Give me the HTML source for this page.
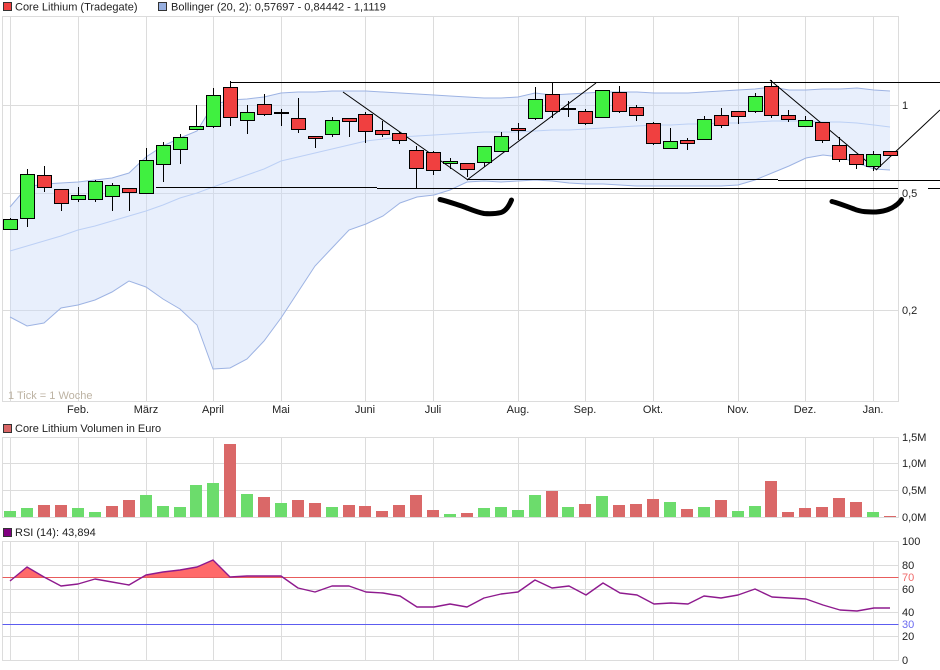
<!DOCTYPE html>
<html><head><meta charset="utf-8"><style>
html,body{margin:0;padding:0;background:#fff;}
svg{display:block;font-family:"Liberation Sans",Arial,sans-serif;}
</style></head><body>
<svg width="940" height="670" viewBox="0 0 940 670" xmlns="http://www.w3.org/2000/svg">
<rect width="940" height="670" fill="#fff"/>
<!-- legend -->
<rect x="3.5" y="2.5" width="8" height="8" fill="#ee4040" stroke="#333" stroke-width="1"/>
<text x="15" y="10.5" font-size="11" fill="#222">Core Lithium (Tradegate)</text>
<rect x="158.5" y="2.5" width="8" height="8" fill="#97afe0" stroke="#333" stroke-width="1"/>
<text x="171" y="10.5" font-size="11" fill="#222">Bollinger (20, 2): 0,57697 - 0,84442 - 1,1119</text>

<!-- main panel grid -->
<g stroke="#dcdcdc" stroke-width="1" fill="none">
<rect x="2.5" y="16.5" width="896" height="385"/>
<path d="M10.5 16.5V401.5M78.5 16.5V401.5M146.5 16.5V401.5M213.5 16.5V401.5M281.5 16.5V401.5M365.5 16.5V401.5M433.5 16.5V401.5M518.5 16.5V401.5M585.5 16.5V401.5M653.5 16.5V401.5M738.5 16.5V401.5M805.5 16.5V401.5M873.5 16.5V401.5"/>
<path d="M2.5 105.5H898.5M2.5 193.5H898.5M2.5 310.5H898.5"/>
</g>

<!-- bollinger -->
<polygon fill="#c9d8f7" fill-opacity="0.42" points="10,207 27,187 44,184 61,183 78,182 95,180 112,178 129,173 146,157 163,146 180,138 197,131 213,105 230,100 247,99 264,97 281,93 298,92 315,92 332,91 349,91 366,91 383,92 400,93 417,94 434,95 450,96 467,97 484,98 501,98 518,97 535,93 552,95 569,94 586,93 603,92 620,92 637,92 654,93 671,93 688,93 704,92 721,91 738,90 755,89 772,87 789,90 806,90 823,89 840,89 857,88 874,90 890,91 890,170 874,169 857,163 840,157 823,155 806,158 789,166 772,173 755,180 738,185 721,186 704,186 688,186 671,186 654,186 637,186 620,185 603,184 586,184 569,183 552,181 535,180 518,181 501,182 484,181 467,182 450,190 434,195 417,197 400,203 383,216 366,224 349,230 332,248 315,266 298,292 281,318 264,341 247,359 230,368 213,369 197,325 180,309 163,299 146,287 129,281 112,292 95,300 78,305 61,308 44,323 27,326 10,317"/>
<polyline fill="none" stroke="#9db3e3" stroke-width="1" points="10,207 27,187 44,184 61,183 78,182 95,180 112,178 129,173 146,157 163,146 180,138 197,131 213,105 230,100 247,99 264,97 281,93 298,92 315,92 332,91 349,91 366,91 383,92 400,93 417,94 434,95 450,96 467,97 484,98 501,98 518,97 535,93 552,95 569,94 586,93 603,92 620,92 637,92 654,93 671,93 688,93 704,92 721,91 738,90 755,89 772,87 789,90 806,90 823,89 840,89 857,88 874,90 890,91"/>
<polyline fill="none" stroke="#bcd0f5" stroke-width="1" points="10,251 27,246 44,241 61,236 78,230 95,226 112,221 129,216 146,211 163,205 180,198 197,193 213,187 230,181 247,175 264,169 281,161 298,157 315,153 332,149 349,145 366,141 383,139 400,137 417,136 434,135 450,134 467,133 484,132 501,132 518,132 535,131 552,130 569,130 586,129 603,128 620,127 637,126 654,125 671,125 688,124 704,124 721,123 738,123 755,122 772,121 789,121 806,121 823,122 840,122 857,123 874,125 890,127"/>
<polyline fill="none" stroke="#9db3e3" stroke-width="1" points="10,317 27,326 44,323 61,308 78,305 95,300 112,292 129,281 146,287 163,299 180,309 197,325 213,369 230,368 247,359 264,341 281,318 298,292 315,266 332,248 349,230 366,224 383,216 400,203 417,197 434,195 450,190 467,182 484,181 501,182 518,181 535,180 552,181 569,183 586,184 603,184 620,185 637,186 654,186 671,186 688,186 704,186 721,186 738,185 755,180 772,173 789,166 806,158 823,155 840,157 857,163 874,169 890,170"/>

<!-- annotation lines -->
<g stroke="#000" stroke-width="1" fill="none">
<path d="M230 82.5H940"/>
<path d="M156 187.5H377M377 188.5H898M928 188.5H940"/>
<path d="M467 179.5H778M778 180.5H940"/>
<path d="M343 92L468 180"/>
<path d="M467 180L596 83"/>
<path d="M770 80L877 170"/>
<path d="M876 170L940 110"/>
</g>

<!-- candles -->
<path stroke="#000" stroke-width="1" fill="none" d="M10.5 218V229M27.5 169V227M44.5 166V192M61.5 189V211M78.5 187V202M95.5 180V202M112.5 183V211M129.5 188V211M146.5 148V193M163.5 142V182M180.5 134V164M196.5 105V129M213.5 88V128M230.5 81V126M247.5 105V134M264.5 94V116M281.5 109V126M298.5 98V133M315.5 136V148M332.5 117V137M349.5 118V137M365.5 112V143M382.5 121V137M399.5 132V144M416.5 146V188M433.5 151V175M450.5 158V169M467.5 163V177M484.5 146V167M501.5 132V151M518.5 123V140M535.5 87V120M552.5 82V118M568.5 101V117M585.5 109V125M602.5 90V117M619.5 86V113M636.5 105V121M653.5 122V145M670.5 128V148M687.5 138V150M704.5 116V139M721.5 108V128M738.5 111V124M755.5 93V113M771.5 80V118M788.5 110V122M805.5 116V126M822.5 122V143M839.5 137V162M856.5 154V169M873.5 151V171M890.5 151V155"/>
<g stroke="#000" stroke-width="1">
<g fill="#40f040">
<rect x="3.5" y="219.5" width="14" height="10"/>
<rect x="20.5" y="174.5" width="14" height="44"/>
<rect x="71.5" y="195.5" width="14" height="4"/>
<rect x="88.5" y="181.5" width="14" height="18"/>
<rect x="105.5" y="185.5" width="14" height="11"/>
<rect x="139.5" y="160.5" width="14" height="33"/>
<rect x="156.5" y="145.5" width="14" height="19"/>
<rect x="173.5" y="137.5" width="14" height="12"/>
<rect x="189.5" y="126.5" width="14" height="3"/>
<rect x="206.5" y="95.5" width="14" height="31"/>
<rect x="240.5" y="112.5" width="14" height="8"/>
<rect x="325.5" y="120.5" width="14" height="14"/>
<rect x="443.5" y="161.5" width="14" height="2"/>
<rect x="477.5" y="146.5" width="14" height="16"/>
<rect x="494.5" y="136.5" width="14" height="15"/>
<rect x="528.5" y="99.5" width="14" height="19"/>
<rect x="595.5" y="90.5" width="14" height="27"/>
<rect x="663.5" y="141.5" width="14" height="7"/>
<rect x="697.5" y="119.5" width="14" height="20"/>
<rect x="748.5" y="96.5" width="14" height="15"/>
<rect x="798.5" y="120.5" width="14" height="6"/>
<rect x="866.5" y="154.5" width="14" height="12"/>
</g>
<g fill="#f04040">
<rect x="37.5" y="175.5" width="14" height="12"/>
<rect x="54.5" y="189.5" width="14" height="14"/>
<rect x="122.5" y="188.5" width="14" height="4"/>
<rect x="223.5" y="87.5" width="14" height="30"/>
<rect x="257.5" y="104.5" width="14" height="10"/>
<rect x="291.5" y="118.5" width="14" height="11"/>
<rect x="308.5" y="136.5" width="14" height="2"/>
<rect x="342.5" y="118.5" width="14" height="3"/>
<rect x="358.5" y="114.5" width="14" height="17"/>
<rect x="375.5" y="130.5" width="14" height="4"/>
<rect x="392.5" y="133.5" width="14" height="7"/>
<rect x="409.5" y="150.5" width="14" height="18"/>
<rect x="426.5" y="152.5" width="14" height="18"/>
<rect x="460.5" y="163.5" width="14" height="6"/>
<rect x="511.5" y="128.5" width="14" height="2"/>
<rect x="545.5" y="94.5" width="14" height="17"/>
<rect x="578.5" y="111.5" width="14" height="12"/>
<rect x="612.5" y="92.5" width="14" height="19"/>
<rect x="629.5" y="107.5" width="14" height="8"/>
<rect x="646.5" y="123.5" width="14" height="20"/>
<rect x="680.5" y="140.5" width="14" height="3"/>
<rect x="714.5" y="115.5" width="14" height="10"/>
<rect x="731.5" y="111.5" width="14" height="5"/>
<rect x="764.5" y="86.5" width="14" height="29"/>
<rect x="781.5" y="115.5" width="14" height="4"/>
<rect x="815.5" y="122.5" width="14" height="18"/>
<rect x="832.5" y="145.5" width="14" height="14"/>
<rect x="849.5" y="154.5" width="14" height="10"/>
<rect x="883.5" y="151.5" width="14" height="4"/>
</g>
<g fill="#000">
<rect x="274.5" y="112.5" width="14" height="1"/>
<rect x="561.5" y="108.5" width="14" height="1"/>
</g>
</g>

<!-- hand drawn blobs -->
<g stroke="#000" stroke-width="5" fill="none" stroke-linecap="round" stroke-linejoin="round">
<path d="M440 199.5C447 201 455 204 463 206.5C470 209 476 212 484 213.5C490 214 497 213.5 501 212.5C506 211 509 206 511.5 200"/>
<path d="M832 201.5C838 203 846 206 854 209C861 212 868 212 876 212C884 211.5 890 209.5 895 206C898 204 900 202 901.5 199.5"/>
</g>

<!-- main labels -->
<text x="8" y="399" font-size="11" fill="#bdb3a3">1 Tick = 1 Woche</text>
<g font-size="11" fill="#222" text-anchor="middle">
<text x="78" y="413">Feb.</text>
<text x="146" y="413">März</text>
<text x="213" y="413">April</text>
<text x="281" y="413">Mai</text>
<text x="365" y="413">Juni</text>
<text x="433" y="413">Juli</text>
<text x="518" y="413">Aug.</text>
<text x="585" y="413">Sep.</text>
<text x="653" y="413">Okt.</text>
<text x="738" y="413">Nov.</text>
<text x="805" y="413">Dez.</text>
<text x="873" y="413">Jan.</text>
</g>
<g font-size="11" fill="#222">
<text x="902" y="109">1</text>
<text x="902" y="197">0,5</text>
<text x="902" y="314">0,2</text>
</g>

<!-- volume -->
<rect x="3.5" y="424.5" width="8" height="8" fill="#d96666" stroke="#333" stroke-width="1"/>
<text x="15" y="432" font-size="11" fill="#222">Core Lithium Volumen in Euro</text>
<g stroke="#dcdcdc" stroke-width="1" fill="none">
<rect x="2.5" y="437.5" width="896" height="80"/>
<path d="M10.5 437.5V517.5M78.5 437.5V517.5M146.5 437.5V517.5M213.5 437.5V517.5M281.5 437.5V517.5M365.5 437.5V517.5M433.5 437.5V517.5M518.5 437.5V517.5M585.5 437.5V517.5M653.5 437.5V517.5M738.5 437.5V517.5M805.5 437.5V517.5M873.5 437.5V517.5"/>
<path d="M2.5 463.5H898.5M2.5 490.5H898.5"/>
</g>
<g fill="#6cdc6c">
<rect x="4" y="511" width="12" height="6"/>
<rect x="21" y="508" width="12" height="9"/>
<rect x="72" y="508" width="12" height="9"/>
<rect x="89" y="512" width="12" height="5"/>
<rect x="140" y="495" width="12" height="22"/>
<rect x="157" y="506" width="12" height="11"/>
<rect x="174" y="507" width="12" height="10"/>
<rect x="190" y="485" width="12" height="32"/>
<rect x="207" y="483" width="12" height="34"/>
<rect x="241" y="494" width="12" height="23"/>
<rect x="275" y="503" width="12" height="14"/>
<rect x="326" y="507" width="12" height="10"/>
<rect x="444" y="514" width="12" height="3"/>
<rect x="478" y="508" width="12" height="9"/>
<rect x="495" y="507" width="12" height="10"/>
<rect x="512" y="510" width="12" height="7"/>
<rect x="529" y="495" width="12" height="22"/>
<rect x="562" y="507" width="12" height="10"/>
<rect x="596" y="496" width="12" height="21"/>
<rect x="664" y="502" width="12" height="15"/>
<rect x="698" y="507" width="12" height="10"/>
<rect x="732" y="511" width="12" height="6"/>
<rect x="749" y="506" width="12" height="11"/>
<rect x="867" y="512" width="12" height="5"/>
</g>
<g fill="#da6868">
<rect x="38" y="505" width="12" height="12"/>
<rect x="55" y="505" width="12" height="12"/>
<rect x="106" y="506" width="12" height="11"/>
<rect x="123" y="500" width="12" height="17"/>
<rect x="224" y="444" width="12" height="73"/>
<rect x="258" y="497" width="12" height="20"/>
<rect x="292" y="500" width="12" height="17"/>
<rect x="309" y="503" width="12" height="14"/>
<rect x="343" y="505" width="12" height="12"/>
<rect x="359" y="506" width="12" height="11"/>
<rect x="376" y="511" width="12" height="6"/>
<rect x="393" y="505" width="12" height="12"/>
<rect x="410" y="495" width="12" height="22"/>
<rect x="427" y="510" width="12" height="7"/>
<rect x="461" y="513" width="12" height="4"/>
<rect x="546" y="491" width="12" height="26"/>
<rect x="579" y="504" width="12" height="13"/>
<rect x="613" y="505" width="12" height="12"/>
<rect x="630" y="504" width="12" height="13"/>
<rect x="647" y="499" width="12" height="18"/>
<rect x="681" y="509" width="12" height="8"/>
<rect x="715" y="500" width="12" height="17"/>
<rect x="765" y="481" width="12" height="36"/>
<rect x="782" y="512" width="12" height="5"/>
<rect x="799" y="508" width="12" height="9"/>
<rect x="816" y="507" width="12" height="10"/>
<rect x="833" y="498" width="12" height="19"/>
<rect x="850" y="502" width="12" height="15"/>
<rect x="884" y="516" width="12" height="1"/>
</g>
<g font-size="11" fill="#222">
<text x="902" y="441">1,5M</text>
<text x="902" y="467">1,0M</text>
<text x="902" y="494">0,5M</text>
<text x="902" y="521">0,0M</text>
</g>

<!-- RSI -->
<rect x="3.5" y="528.5" width="8" height="8" fill="#800080" stroke="#333" stroke-width="1"/>
<text x="15" y="536" font-size="11" fill="#222">RSI (14): 43,894</text>
<g stroke="#dcdcdc" stroke-width="1" fill="none">
<rect x="2.5" y="541.5" width="896" height="119"/>
<path d="M10.5 541.5V660.5M78.5 541.5V660.5M146.5 541.5V660.5M213.5 541.5V660.5M281.5 541.5V660.5M365.5 541.5V660.5M433.5 541.5V660.5M518.5 541.5V660.5M585.5 541.5V660.5M653.5 541.5V660.5M738.5 541.5V660.5M805.5 541.5V660.5M873.5 541.5V660.5"/>
<path d="M2.5 565.5H898.5M2.5 589.5H898.5M2.5 612.5H898.5M2.5 636.5H898.5"/>
</g>
<defs><clipPath id="above70"><rect x="0" y="541" width="940" height="36.5"/></clipPath></defs>
<polygon clip-path="url(#above70)" fill="#ff6a6a" points="10,581 27,567 44,577 61,586 78,584 95,579 112,582 129,585 146,575 163,572 180,570 197,567 213,560 230,577 247,576 264,576 281,576 298,588 315,592 332,586 349,586 366,592 383,593 400,596 417,607 434,607 450,604 467,607 484,598 501,594 518,592 535,580 552,588 569,586 586,595 603,583 620,593 637,595 654,604 671,603 688,604 704,596 721,598 738,595 755,589 772,597 789,598 806,599 823,605 840,610 857,611 874,608 890,608 890,577.5 10,577.5"/>
<path d="M2.5 577.5H898.5" stroke="#e85c5c" stroke-width="1"/>
<path d="M2.5 624.5H898.5" stroke="#5c5cf0" stroke-width="1"/>
<polyline fill="none" stroke="#8e1a8e" stroke-width="1.4" stroke-linejoin="round" points="10,581 27,567 44,577 61,586 78,584 95,579 112,582 129,585 146,575 163,572 180,570 197,567 213,560 230,577 247,576 264,576 281,576 298,588 315,592 332,586 349,586 366,592 383,593 400,596 417,607 434,607 450,604 467,607 484,598 501,594 518,592 535,580 552,588 569,586 586,595 603,583 620,593 637,595 654,604 671,603 688,604 704,596 721,598 738,595 755,589 772,597 789,598 806,599 823,605 840,610 857,611 874,608 890,608"/>
<g font-size="11" fill="#222">
<text x="902" y="545">100</text>
<text x="902" y="569">80</text>
<text x="902" y="581" fill="#f06a6a">70</text>
<text x="902" y="593">60</text>
<text x="902" y="616">40</text>
<text x="902" y="628" fill="#6a6af0">30</text>
<text x="902" y="640">20</text>
<text x="902" y="664">0</text>
</g>
</svg>
</body></html>
